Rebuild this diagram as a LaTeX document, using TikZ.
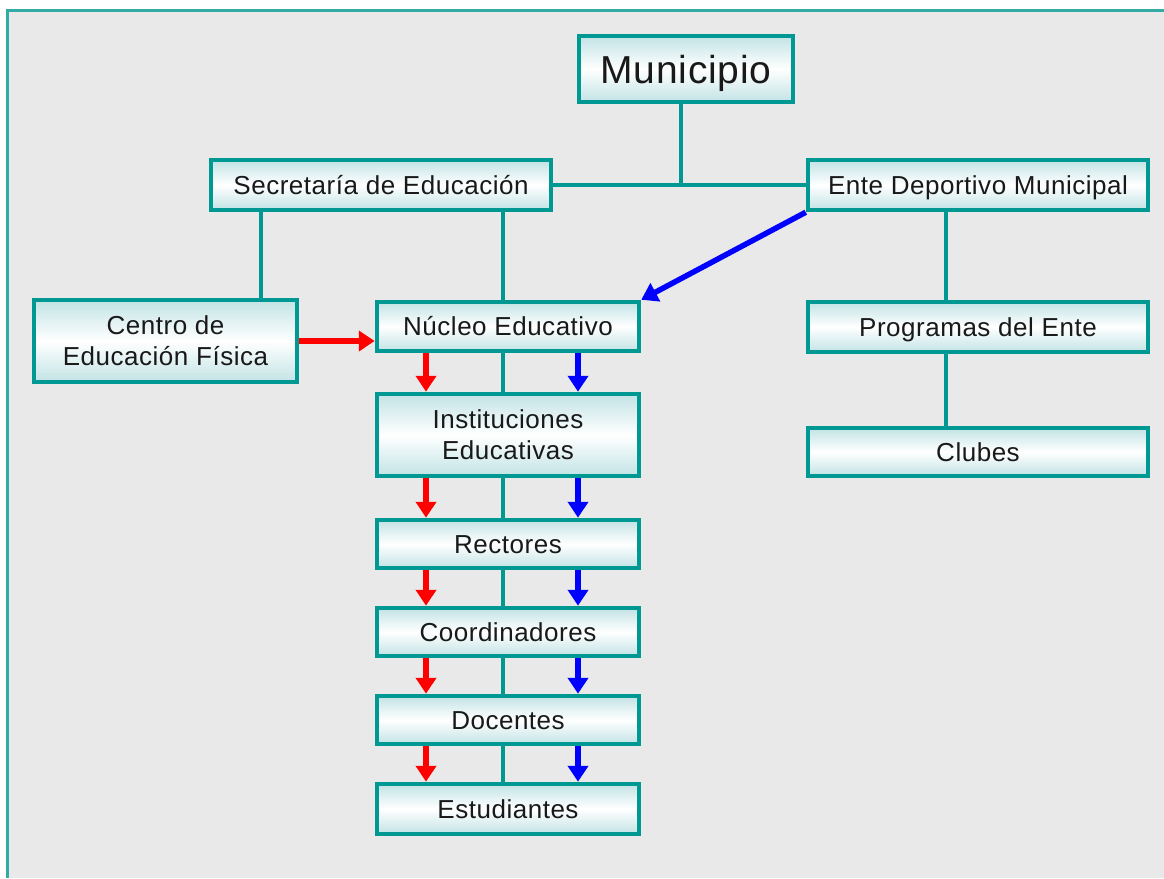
\documentclass[tikz,border=0pt]{standalone}
\usepackage{fontspec}
\setmainfont[LetterSpace=2]{Liberation Sans}
\usetikzlibrary{arrows.meta}
\definecolor{tl}{RGB}{0,152,146}
\definecolor{frm}{RGB}{52,170,165}
\definecolor{bgc}{RGB}{233,233,233}
\definecolor{shd}{RGB}{194,227,229}
\definecolor{txt}{RGB}{25,25,25}
\begin{document}
\begin{tikzpicture}[x=1pt,y=-1pt,
  box/.style={draw=tl, line width=4.5pt, top color=shd, bottom color=shd, middle color=white,
    inner sep=0pt, text=txt, align=center, font=\fontsize{26}{31}\selectfont},
  wide/.style={box, minimum width=340pt, minimum height=50pt, text height=20pt, text depth=1.5pt},
  col/.style={box, minimum width=262pt, minimum height=48pt, text height=20pt, text depth=1.5pt},
  conn/.style={draw=tl, line width=4.5pt},
  redarr/.style={draw=red, line width=5.5pt, -{Triangle[width=20pt,length=16pt]}},
  bluearr/.style={draw=blue, line width=5.5pt, -{Triangle[width=20pt,length=16pt]}}]
\useasboundingbox (0,0) rectangle (1164,878);
\fill[white] (0,0) rectangle (1164,878);
\fill[bgc] (7.5,10) rectangle (1164,878);
\draw[frm, line width=3pt] (7.5,878) -- (7.5,10) -- (1164,10);

\node[box, minimum width=214pt, minimum height=66pt, text height=30pt, text depth=1pt, font=\fontsize{39}{44}\selectfont] (mun) at (686,69) {Municipio};
\node[wide] (sec) at (381,185) {Secretaría de Educación};
\node[wide] (ente) at (978,185) {Ente Deportivo Municipal};
\node[box, minimum width=263pt, minimum height=82pt] (cen) at (165.5,341) {Centro de\\Educación Física};
\node[col, minimum height=49pt] (nuc) at (508,326.5) {Núcleo Educativo};
\node[wide] (prog) at (978,327) {Programas del Ente};
\node[wide, minimum height=48pt] (club) at (978,452) {Clubes};
\node[box, minimum width=262pt, minimum height=82pt] (inst) at (508,435) {Instituciones\\Educativas};
\node[col] (rect) at (508,544) {Rectores};
\node[col] (coord) at (508,632) {Coordinadores};
\node[col] (doc) at (508,720) {Docentes};
\node[col, minimum height=50pt] (est) at (508,809) {Estudiantes};

% connectors
\coordinate (m1) at ([xshift=-5pt]mun.south);
\draw[conn] (m1) -- (m1 |- sec.east);
\draw[conn] (sec.east) -- (ente.west);
\coordinate (s1) at ([xshift=-120pt]sec.south);
\coordinate (s2) at ([xshift=122pt]sec.south);
\draw[conn] (s1) -- (s1 |- cen.north);
\draw[conn] (s2) -- (s2 |- nuc.north);
\coordinate (e1) at ([xshift=-32pt]ente.south);
\draw[conn] (e1) -- (e1 |- prog.north);
\draw[conn] (e1 |- prog.south) -- (e1 |- club.north);

\foreach \a/\b in {nuc/inst, inst/rect, rect/coord, coord/doc, doc/est}{
  \coordinate (sp) at ([xshift=-5pt]\a.south);
  \draw[conn] (sp) -- (sp |- \b.north);
  \coordinate (ra) at ([xshift=-82pt]\a.south);
  \draw[redarr] (ra) -- (ra |- \b.north);
  \coordinate (ba) at ([xshift=70pt]\a.south);
  \draw[bluearr] (ba) -- (ba |- \b.north);
}

\draw[redarr] (cen.east) -- (cen.east -| nuc.west);
\draw[bluearr] (ente.south west) -- (nuc.north east);
\end{tikzpicture}
\end{document}
